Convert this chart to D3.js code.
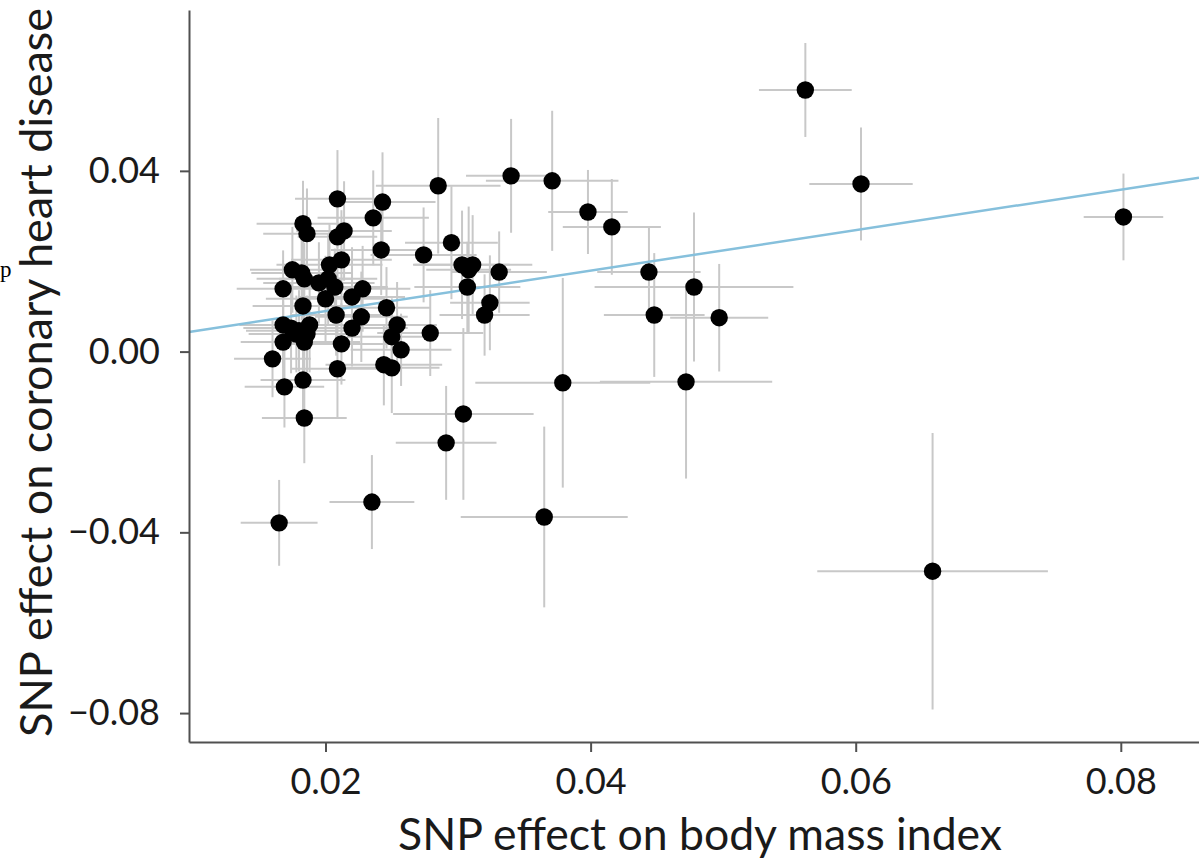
<!doctype html>
<html>
  <head>
    <meta charset="utf-8">
    <script src="https://cdn.jsdelivr.net/npm/d3@7/dist/d3.min.js"></script>
    <style>
      body { margin: 0; background: #fff; }
      .axis path, .axis line { stroke: #505050; stroke-width: 2; }
      .axis text { font-family: Lato, "Noto Sans", sans-serif; font-size: 36px; fill: #1a1a1a; }
      .title { font-family: Lato, "Noto Sans", sans-serif; font-size: 45px; fill: #1a1a1a; }
    </style>
  </head>
  <body>
    <svg width="1199" height="862"></svg>
    <script>
      // SNP effects (BMI on x, CHD on y), with error bar half-widths
      var bmiEffect = [
        0.0562, 0.0604, 0.0802, 0.0658, 0.0340, 0.0371, 0.0398, 0.0416, 0.0444, 0.0448,
        0.0478, 0.0497, 0.0472, 0.0379, 0.0365, 0.0304, 0.0291, 0.0165, 0.0235, 0.0285,
        0.0243, 0.0236, 0.0209, 0.0183, 0.0186, 0.0214, 0.0209, 0.0242, 0.0274, 0.0295,
        0.0303, 0.0311, 0.0308, 0.0307, 0.0331, 0.0324, 0.0320, 0.0279, 0.0212, 0.0203,
        0.0175, 0.0182, 0.0184, 0.0168, 0.0195, 0.0202, 0.0207, 0.0200, 0.0183, 0.0208,
        0.0220, 0.0228, 0.0227, 0.0246, 0.0220, 0.0254, 0.0250, 0.0257, 0.0244, 0.0250,
        0.0212, 0.0209, 0.0168, 0.0174, 0.0180, 0.0188, 0.0186, 0.0168, 0.0184, 0.0160,
        0.0169, 0.0183, 0.0184, 0.0178
      ];
      var chdEffect = [
        0.0579, 0.0371, 0.0298, -0.0486, 0.0389, 0.0378, 0.0309, 0.0276, 0.0176, 0.0081,
        0.0143, 0.0075, -0.0067, -0.0069, -0.0366, -0.0138, -0.0202, -0.0379, -0.0333, 0.0367,
        0.0331, 0.0296, 0.0338, 0.0283, 0.0261, 0.0267, 0.0254, 0.0225, 0.0214, 0.0241,
        0.0192, 0.0192, 0.0181, 0.0143, 0.0176, 0.0108, 0.0081, 0.0041, 0.0203, 0.0192,
        0.0181, 0.0174, 0.0161, 0.0139, 0.0152, 0.0161, 0.0143, 0.0117, 0.0101, 0.0081,
        0.0121, 0.0139, 0.0077, 0.0097, 0.0052, 0.0059, 0.0033, 0.0004, -0.0029, -0.0036,
        0.0017, -0.0038, 0.0059, 0.0052, 0.0046, 0.0059, 0.0039, 0.0021, 0.0021, -0.0016,
        -0.0078, -0.0063, -0.0147, 0.0039
      ];
      var bmiErr = [
        0.0035, 0.0039, 0.0030, 0.0087, 0.0034, 0.0050, 0.0030, 0.0037, 0.0039, 0.0038,
        0.0075, 0.0037, 0.0065, 0.0066, 0.0063, 0.0053, 0.0038, 0.0029, 0.0032, 0.0047,
        0.0040, 0.0042, 0.0032, 0.0035, 0.0033, 0.0036, 0.0030, 0.0038, 0.0040, 0.0035,
        0.0036, 0.0045, 0.0032, 0.0040, 0.0036, 0.0030, 0.0034, 0.0040, 0.0038, 0.0040,
        0.0032, 0.0038, 0.0036, 0.0035, 0.0042, 0.0037, 0.0040, 0.0045, 0.0038, 0.0034,
        0.0040, 0.0036, 0.0035, 0.0033, 0.0042, 0.0030, 0.0034, 0.0038, 0.0044, 0.0036,
        0.0040, 0.0035, 0.0033, 0.0036, 0.0040, 0.0045, 0.0030, 0.0032, 0.0042, 0.0029,
        0.0030, 0.0032, 0.0032, 0.0036
      ];
      var chdErr = [
        0.0104, 0.0125, 0.0096, 0.0306, 0.0126, 0.0155, 0.0093, 0.0106, 0.0100, 0.0137,
        0.0165, 0.0119, 0.0214, 0.0232, 0.0200, 0.0190, 0.0126, 0.0095, 0.0104, 0.0150,
        0.0110, 0.0105, 0.0108, 0.0095, 0.0100, 0.0110, 0.0095, 0.0100, 0.0105, 0.0125,
        0.0120, 0.0110, 0.0140, 0.0100, 0.0090, 0.0105, 0.0090, 0.0095, 0.0110, 0.0090,
        0.0095, 0.0105, 0.0080, 0.0085, 0.0090, 0.0100, 0.0085, 0.0095, 0.0100, 0.0090,
        0.0110, 0.0095, 0.0100, 0.0090, 0.0085, 0.0095, 0.0085, 0.0080, 0.0090, 0.0100,
        0.0090, 0.0110, 0.0095, 0.0100, 0.0090, 0.0105, 0.0085, 0.0090, 0.0095, 0.0085,
        0.0090, 0.0100, 0.0100, 0.0085
      ];
      var xTicks = [0.02, 0.04, 0.06, 0.08];
      var yTicks = [-0.08, -0.04, 0, 0.04];
      var slope = 0.448; // fitted line through the origin

      var data = bmiEffect.map((b, i) =>
        ({x: b, y: chdEffect[i], ex: bmiErr[i], ey: chdErr[i]}));

      var x = d3.scaleLinear().domain([0.0097, 0.0859]).range([189, 1199]);
      var y = d3.scaleLinear().domain([-0.0864, 0.0756]).range([742, 10]);
      var fmt = d3.format(".2f");

      var svg = d3.select("svg");

      // error bars
      var bars = svg.append("g")
        .attr("stroke", "#c8c8c8")
        .attr("stroke-width", 2);
      bars.selectAll("line.h")
        .data(data)
        .enter()
        .append("line")
          .attr("class", "h")
          .attr("x1", d => x(d.x - d.ex))
          .attr("x2", d => x(d.x + d.ex))
          .attr("y1", d => y(d.y))
          .attr("y2", d => y(d.y));
      bars.selectAll("line.v")
        .data(data)
        .enter()
        .append("line")
          .attr("class", "v")
          .attr("x1", d => x(d.x))
          .attr("x2", d => x(d.x))
          .attr("y1", d => y(d.y - d.ey))
          .attr("y2", d => y(d.y + d.ey));

      // regression line
      var xd = x.domain();
      svg.append("line")
        .attr("x1", x(xd[0]))
        .attr("y1", y(slope * xd[0]))
        .attr("x2", x(xd[1]))
        .attr("y2", y(slope * xd[1]))
        .attr("stroke", "#86c0dc")
        .attr("stroke-width", 2.5);

      svg.append("g")
        .selectAll("circle")
        .data(data)
        .enter()
        .append("circle")
          .attr("cx", d => x(d.x))
          .attr("cy", d => y(d.y))
          .attr("r", 8.7)
          .attr("fill", "#000");

      // axes
      svg.append("g")
        .attr("class", "axis")
        .attr("transform", "translate(0,742)")
        .call(d3.axisBottom(x).tickValues(xTicks).tickFormat(fmt)
          .tickSize(10).tickSizeOuter(0).tickPadding(16));
      svg.append("g")
        .attr("class", "axis")
        .attr("transform", "translate(189,0)")
        .call(d3.axisLeft(y).tickValues(yTicks).tickFormat(fmt)
          .tickSize(9).tickSizeOuter(0).tickPadding(20));

      svg.append("text")
        .attr("class", "title")
        .attr("x", 398)
        .attr("y", 850)
        .attr("textLength", 604)
        .attr("lengthAdjust", "spacingAndGlyphs")
        .text("SNP effect on body mass index");
      svg.append("text")
        .attr("class", "title")
        .attr("transform", "translate(52,737) rotate(-90)")
        .attr("textLength", 729)
        .attr("lengthAdjust", "spacingAndGlyphs")
        .text("SNP effect on coronary heart disease");

      // stray glyph at the left edge
      svg.append("text")
        .attr("x", 0)
        .attr("y", 277)
        .attr("font-family", "Liberation Serif, serif")
        .attr("font-size", 23)
        .text("p");
    </script>
  </body>
</html>
